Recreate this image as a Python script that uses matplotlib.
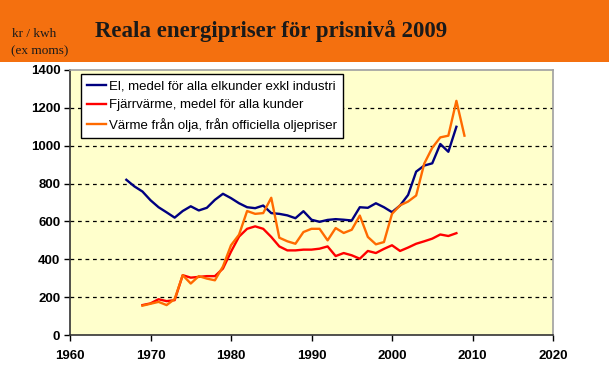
import matplotlib

matplotlib.use("Agg")
import matplotlib.pyplot as plt
from matplotlib.patches import Rectangle

# series
el_years = list(range(1967, 2009))
el_price = [820, 785, 758, 712, 675, 648, 620, 655, 680, 658, 672, 714, 746, 723, 696,
            675, 670, 684, 644, 640, 632, 617, 654, 609, 598, 608, 612, 609, 605, 675,
            672, 696, 675, 649, 684, 740, 863, 895, 907, 1009, 968, 1100]

fjv_years = list(range(1969, 2009))
fjv_price = [158, 167, 189, 179, 184, 316, 303, 307, 311, 311, 351, 440, 520, 561, 574,
             561, 518, 468, 447, 447, 451, 451, 456, 468, 417, 433, 421, 403, 444, 433,
             455, 474, 444, 462, 482, 495, 509, 531, 523, 538]

olja_years = list(range(1969, 2010))
olja_price = [155, 165, 175, 158, 190, 316, 272, 311, 298, 289, 362, 474, 530, 655, 640,
              644, 725, 514, 495, 482, 544, 561, 561, 500, 565, 539, 556, 631, 518, 479,
              491, 640, 685, 705, 737, 905, 989, 1044, 1053, 1237, 1053]

labels = [
    "El, medel för alla elkunder exkl industri",
    "Fjärrvärme, medel för alla kunder",
    "Värme från olja, från officiella oljepriser",
]
colors = ["#000080", "#FF0000", "#FF6A00"]

x_ticks = [1960, 1970, 1980, 1990, 2000, 2010, 2020]
y_ticks = [0, 200, 400, 600, 800, 1000, 1200, 1400]

W, H = 609, 379
fig = plt.figure(figsize=(W / 100, H / 100), dpi=100)
fig.patch.set_facecolor("white")

# orange header band
fig.patches.append(Rectangle((0, 1 - 62 / H), 1, 62 / H, transform=fig.transFigure,
                             facecolor="#F4700F", edgecolor="none", zorder=0))
fig.text(271 / W, 1 - 31 / H, "Reala energipriser för prisnivå 2009",
         ha="center", va="center", fontsize=16.5, fontweight="bold",
         family="Liberation Serif", color="#1A1A1A")
fig.text(12 / W, 1 - 34 / H, "kr / kwh", ha="left", va="center", fontsize=9.5,
         family="Liberation Serif", color="#1A1A1A")
fig.text(11 / W, 1 - 51 / H, "(ex moms)", ha="left", va="center", fontsize=9.5,
         family="Liberation Serif", color="#1A1A1A")

ax = fig.add_axes([70 / W, 1 - 335 / H, (553 - 70) / W, (335 - 70) / H])
ax.set_facecolor("#FFFFCC")

for yv in y_ticks[1:-1]:
    ax.axhline(yv, color="black", lw=0.9, ls=(0, (3, 3)), zorder=1)

series = [(el_years, el_price), (fjv_years, fjv_price), (olja_years, olja_price)]
for (xs, ys), lab, c in zip(series, labels, colors):
    ax.plot(xs, ys, color=c, lw=1.7, label=lab, zorder=3)

ax.set_xlim(1960, 2020)
ax.set_ylim(0, 1400)
ax.set_xticks(x_ticks)
ax.set_yticks(y_ticks)
ax.tick_params(direction="out", length=4, width=1, colors="black", labelsize=9.5, pad=3)
for t in ax.get_xticklabels() + ax.get_yticklabels():
    t.set_fontweight("bold")
    t.set_family("Liberation Sans")
ax.tick_params(axis="x", pad=7)

for side in ["left", "bottom"]:
    ax.spines[side].set_color("#333333")
    ax.spines[side].set_linewidth(1.2)
for side in ["top", "right"]:
    ax.spines[side].set_color("#A0A0A0")
    ax.spines[side].set_linewidth(1.2)

leg = ax.legend(loc="upper left", bbox_to_anchor=(0.023, 0.985), frameon=True,
                fancybox=False, framealpha=1, edgecolor="black", handlelength=1.4,
                handletextpad=0.3, borderpad=0.45, labelspacing=0.52,
                borderaxespad=0, prop={"family": "Liberation Sans", "size": 9.5})
leg.get_frame().set_linewidth(1.0)

fig.savefig("out.png", dpi=100, facecolor="white")
